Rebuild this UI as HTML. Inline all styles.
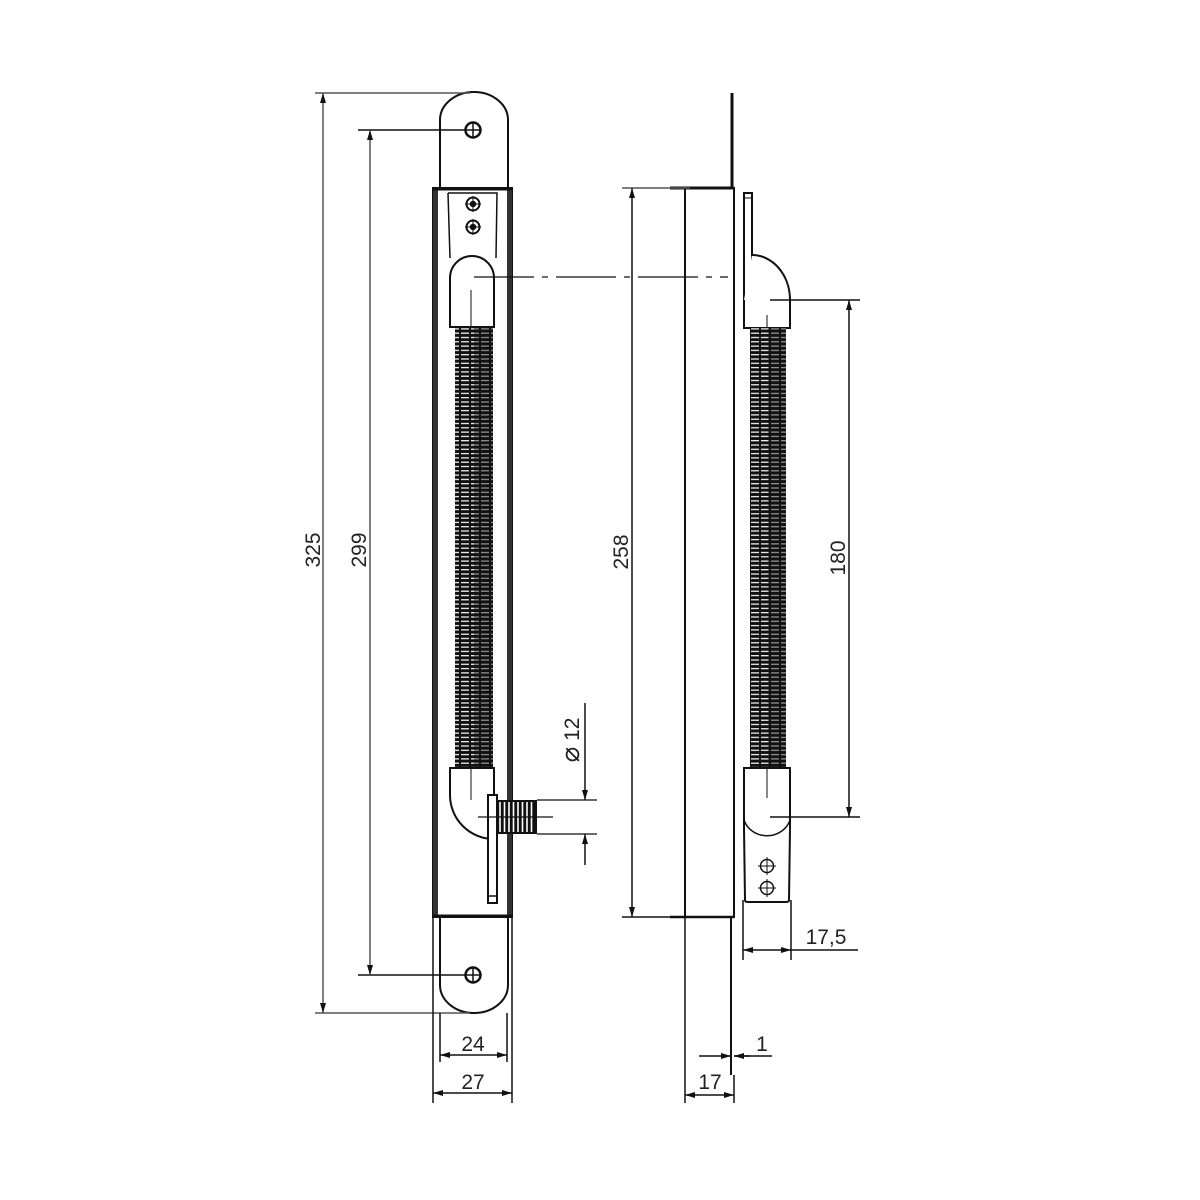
<!DOCTYPE html>
<html><head><meta charset="utf-8"><style>
html,body{margin:0;padding:0;background:#fff;}
svg{display:block;}
text{font-family:"Liberation Sans","DejaVu Sans",sans-serif;font-size:21px;fill:#222;}
</style></head><body>
<svg width="1200" height="1200" viewBox="0 0 1200 1200" xmlns="http://www.w3.org/2000/svg">
<defs>
<pattern id="spL" x="0" y="0" width="10" height="4.3" patternUnits="userSpaceOnUse">
<rect width="10" height="4.3" fill="#111"/><rect x="1" y="1.5" width="8" height="1.2" fill="#fff"/>
</pattern>
<pattern id="spR" x="0" y="0" width="10" height="4.3" patternUnits="userSpaceOnUse">
<rect width="10" height="4.3" fill="#111"/><rect x="1" y="1.5" width="8" height="1.2" fill="#999"/>
</pattern>
<marker id="ar" viewBox="0 0 10 6" refX="10" refY="3" markerWidth="10" markerHeight="6" orient="auto-start-reverse" markerUnits="userSpaceOnUse">
<path d="M0,0 L10,3 L0,6 z" fill="#111"/></marker>
</defs>
<g fill="none" stroke="#111" stroke-width="1.5">
<path d="M440,188 L440,120 A34,28 0 0 1 508,120 L508,188" stroke-width="2"/>
<circle cx="473" cy="130" r="7.5" stroke-width="2.5"/><path d="M465,130 H481 M473,122 V138"/>
<rect x="433" y="188" width="79" height="729" stroke-width="2"/>
<line x1="435.5" y1="188" x2="435.5" y2="917" stroke-width="5" stroke="#333"/>
<line x1="509.5" y1="188" x2="509.5" y2="917" stroke-width="5" stroke="#333"/>
<line x1="433" y1="189" x2="512" y2="189" stroke-width="3"/>
<line x1="433" y1="916" x2="512" y2="916" stroke-width="3"/>
<path d="M448,193 L497,193 L496,258 M448,193 L450,258"/>
<circle cx="473" cy="204" r="6.5" stroke-width="2"/><circle cx="473" cy="204" r="2.5" fill="#111"/><path d="M465,204 H481 M473,196 V212" stroke-width="1"/>
<circle cx="473" cy="227" r="6.5" stroke-width="2"/><circle cx="473" cy="227" r="2.5" fill="#111"/><path d="M465,227 H481 M473,219 V235" stroke-width="1"/>
<path d="M450,327 L450,278 A22,22 0 0 1 494,278 L494,327 Z" fill="#fff" stroke-width="2"/>
<line x1="471" y1="290" x2="471" y2="327" stroke-width="1"/>
<line x1="474" y1="277" x2="728" y2="277" stroke-dasharray="60,8,6,8" stroke-width="1.2"/>
</g>
<rect x="455" y="327" width="19" height="441" fill="url(#spL)"/>
<rect x="474" y="327" width="19" height="441" fill="url(#spR)"/>
<g fill="none" stroke="#111" stroke-width="1.5">
<path d="M450,768 L494,768 L494,839 A44,44 0 0 1 450,795 Z" fill="#fff" stroke-width="2"/>
<line x1="471" y1="768" x2="471" y2="800" stroke-width="1"/>
<rect x="488" y="795" width="9" height="108" fill="#fff" stroke-width="2"/>
<line x1="488" y1="896" x2="497" y2="896"/>
<rect x="496" y="800" width="41" height="34" fill="#111" stroke="none"/>
<g stroke="#fff" stroke-width="1.6">
<path d="M500,802 V832 M504.5,802 V832 M509,802 V832 M513.5,802 V832 M518,802 V832 M522.5,802 V832 M527,802 V832 M531.5,802 V832"/>
</g>
<line x1="478" y1="817" x2="553" y2="817" stroke-width="1.2"/>
<path d="M440,917 L440,985 A34,28 0 0 0 508,985 L508,917" stroke-width="2"/>
<circle cx="473" cy="975" r="7.5" stroke-width="2.5"/><path d="M465,975 H481 M473,967 V983"/>
</g>
<g stroke="#555" stroke-width="1.5" fill="none">
<line x1="315" y1="93" x2="470" y2="93"/>
<line x1="315" y1="1013" x2="470" y2="1013"/>
<line x1="358" y1="130" x2="466" y2="130" stroke="#111"/>
<line x1="358" y1="975" x2="466" y2="975" stroke="#111"/>
<line x1="323" y1="93" x2="323" y2="1013" marker-start="url(#ar)" marker-end="url(#ar)"/>
<line x1="370" y1="130" x2="370" y2="975" marker-start="url(#ar)" marker-end="url(#ar)"/>
<line x1="440" y1="1013" x2="440" y2="1062" stroke="#111"/>
<line x1="507" y1="1013" x2="507" y2="1062" stroke="#111"/>
<line x1="433" y1="917" x2="433" y2="1103" stroke="#111"/>
<line x1="512" y1="917" x2="512" y2="1103" stroke="#111"/>
<line x1="440" y1="1055" x2="507" y2="1055" marker-start="url(#ar)" marker-end="url(#ar)" stroke="#111"/>
<line x1="433" y1="1093" x2="512" y2="1093" marker-start="url(#ar)" marker-end="url(#ar)" stroke="#111"/>
<line x1="537" y1="800" x2="597" y2="800" stroke="#111" stroke-width="1.2"/>
<line x1="537" y1="834" x2="597" y2="834" stroke="#111" stroke-width="1.2"/>
<line x1="585" y1="703" x2="585" y2="800" marker-end="url(#ar)" stroke="#111"/>
<line x1="585" y1="834" x2="585" y2="865" marker-start="url(#ar)" stroke="#111"/>
</g>
<text transform="translate(320,550) rotate(-90)" text-anchor="middle">325</text>
<text transform="translate(366,550) rotate(-90)" text-anchor="middle">299</text>
<text x="473" y="1051" text-anchor="middle">24</text>
<text x="473" y="1089" text-anchor="middle">27</text>
<text transform="translate(579,740) rotate(-90)" text-anchor="middle"><tspan font-size="26">⌀</tspan> 12</text>

<g fill="none" stroke="#111" stroke-width="2">
<line x1="732" y1="93" x2="732" y2="188" stroke-width="3"/>
<rect x="685" y="188" width="49" height="729"/>
<line x1="670" y1="188" x2="734" y2="188" stroke-width="3"/>
<line x1="670" y1="917" x2="734" y2="917" stroke-width="2.5"/>
<line x1="731" y1="917" x2="731" y2="1075"/>
<line x1="622" y1="188" x2="690" y2="188" stroke="#555" stroke-width="1.5"/>
<line x1="622" y1="917" x2="690" y2="917" stroke-width="1.5"/>
<rect x="744" y="193" width="8" height="107" fill="#fff"/>
<line x1="744" y1="198" x2="752" y2="198" stroke-width="1"/>
<path d="M752,255 A38,45 0 0 1 790,300 L790,328 L744,328 L744,300" fill="#fff"/>
<line x1="767" y1="315" x2="767" y2="328" stroke-width="1"/>
</g>
<rect x="750" y="328" width="18" height="440" fill="url(#spL)"/>
<rect x="768" y="328" width="18" height="440" fill="url(#spR)"/>
<g fill="none" stroke="#111" stroke-width="2">
<path d="M744,768 L790,768 L790,828 L789,900 Q789,902 786,902 L748,902 Q745,902 745,900 L744,828 Z" fill="#fff"/>
<path d="M744,820 A24,22 0 0 0 790,820" stroke-width="1.5"/>
<line x1="767" y1="768" x2="767" y2="798" stroke-width="1"/>
<circle cx="767" cy="866" r="6.5" stroke-width="1.5"/><path d="M758,866 H776 M767,857 V875" stroke-width="1"/>
<circle cx="767" cy="888" r="6.5" stroke-width="1.5"/><path d="M758,888 H776 M767,879 V897" stroke-width="1"/>
</g>
<g stroke="#111" stroke-width="1.5" fill="none">
<line x1="632" y1="188" x2="632" y2="917" marker-start="url(#ar)" marker-end="url(#ar)"/>
<line x1="770" y1="300" x2="860" y2="300"/>
<line x1="770" y1="817" x2="860" y2="817"/>
<line x1="849" y1="300" x2="849" y2="817" marker-start="url(#ar)" marker-end="url(#ar)"/>
<line x1="743" y1="900" x2="743" y2="960"/>
<line x1="791" y1="900" x2="791" y2="960"/>
<line x1="743" y1="950" x2="791" y2="950" marker-start="url(#ar)" marker-end="url(#ar)"/>
<line x1="791" y1="950" x2="858" y2="950"/>
<line x1="699" y1="1056" x2="731" y2="1056" marker-end="url(#ar)"/>
<line x1="734" y1="1056" x2="772" y2="1056"/>
<line x1="750" y1="1056" x2="734" y2="1056" marker-end="url(#ar)"/>
<line x1="685" y1="917" x2="685" y2="1103"/>
<line x1="734" y1="1075" x2="734" y2="1103"/>
<line x1="685" y1="1095" x2="734" y2="1095" marker-start="url(#ar)" marker-end="url(#ar)"/>
</g>
<text transform="translate(628,552) rotate(-90)" text-anchor="middle">258</text>
<text transform="translate(845,558) rotate(-90)" text-anchor="middle">180</text>
<text x="826" y="944" text-anchor="middle">17,5</text>
<text x="762" y="1051" text-anchor="middle">1</text>
<text x="710" y="1089" text-anchor="middle">17</text>
</svg>
</body></html>
